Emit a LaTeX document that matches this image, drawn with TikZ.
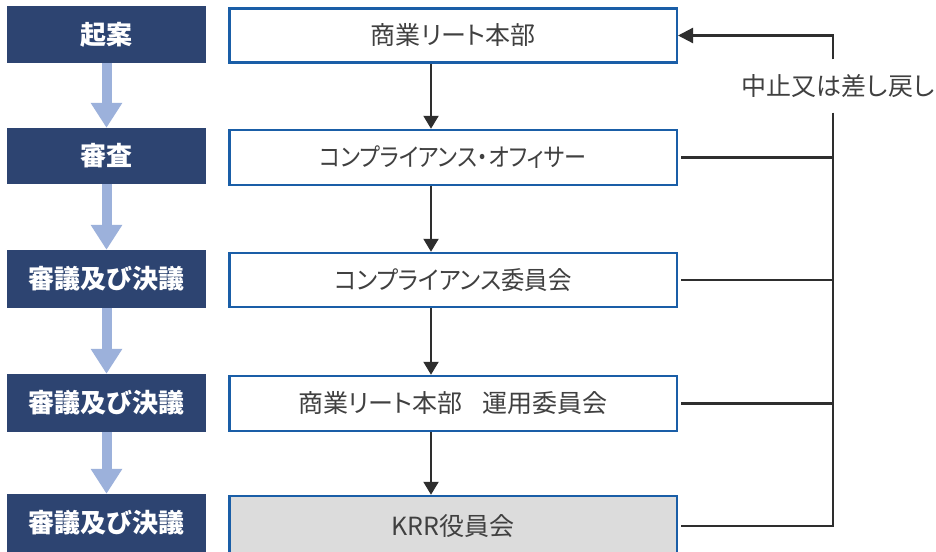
\documentclass[tikz,border=0pt]{standalone}
\usepackage{fontspec}
\setmainfont{Noto Sans CJK JP}[RawFeature=+palt]
\usetikzlibrary{arrows.meta,calc}
\definecolor{navy}{HTML}{2D4471}
\definecolor{lightarr}{HTML}{9CB1DB}
\definecolor{boxblue}{HTML}{1A5EA7}
\definecolor{txtgray}{HTML}{404040}
\definecolor{linegray}{HTML}{2E2E2E}
\definecolor{kgray}{HTML}{DCDCDC}
\begin{document}
\begin{tikzpicture}[x=1pt,y=-1pt,
  stage/.style={fill=navy, text=white, font=\bfseries\fontsize{26}{30}\selectfont,
    minimum width=199pt, minimum height=57pt, inner sep=0pt},
  body/.style={draw=boxblue, line width=2.5pt, fill=white, text=txtgray,
    font=\fontsize{25}{30}\selectfont, minimum width=447.5pt, minimum height=54pt, inner sep=0pt},
  flow/.style={draw=lightarr, line width=10pt, -{Triangle[width=30pt,length=25pt]}},
  link/.style={draw=linegray, line width=2.2pt},
  down/.style={link, -{Triangle[width=15pt,length=13pt]}},
  back/.style={link, -{Triangle[width=15pt,length=15pt]}},
  lbl/.style={text=txtgray, font=\fontsize{25}{30}\selectfont, minimum height=53pt, inner sep=0pt}
]
\useasboundingbox (0,0) rectangle (936,551);
\fill[white] (0,0) rectangle (936,551);

% left stage column
\node[stage] (l1) at (106.5,34.5) {起案};
\node[stage, minimum height=56pt] (l2) at (106.5,156) {審査};
\node[stage, minimum height=58pt] (l3) at (106.5,279) {審議及び決議};
\node[stage, minimum height=58pt] (l4) at (106.5,403) {審議及び決議};
\node[stage, minimum height=58pt] (l5) at (106.5,523) {審議及び決議};

\draw[flow] (l1.south) -- (l2.north);
\draw[flow] (l2.south) -- (l3.north);
\draw[flow] (l3.south) -- (l4.north);
\draw[flow] (l4.south) -- (l5.north);

% body column
\node[body] (r1) at (453,35.5) {商業リート本部};
\node[body, minimum height=55pt] (r2) at (453,157.5) {\scalebox{0.885}[1]{コンプライアンス・オフィサー}};
\node[body] (r3) at (453,280) {\scalebox{0.935}[1]{コンプライアンス委員会}};
\node[body, minimum height=55pt] (r4) at (453,403.5) {商業リート本部\hspace{0.8em}運用委員会};
\node[body, fill=kgray, minimum height=60pt] (r5) at (453,526) {KRR役員会};

\draw[down] ([xshift=-22pt]r1.south) -- ([xshift=-22pt]r2.north);
\draw[down] ([xshift=-22pt]r2.south) -- ([xshift=-22pt]r3.north);
\draw[down] ([xshift=-22pt]r3.south) -- ([xshift=-22pt]r4.north);
\draw[down] ([xshift=-22pt]r4.south) -- ([xshift=-22pt]r5.north);

% return path
\coordinate (top) at (833,35.5);
\node[lbl] (lbl) at (838,86) {中止又は差し戻し};
\draw[back] (top |- lbl.north) -- (top) -- (r1.east);
\draw[link] (top |- lbl.south) -- (r5.east -| top) -- ([xshift=3pt]r5.east);
\draw[link] ([xshift=3pt]r2.east) -- (r2.east -| top);
\draw[link] ([xshift=3pt]r3.east) -- (r3.east -| top);
\draw[link] ([xshift=3pt]r4.east) -- (r4.east -| top);
\end{tikzpicture}
\end{document}
